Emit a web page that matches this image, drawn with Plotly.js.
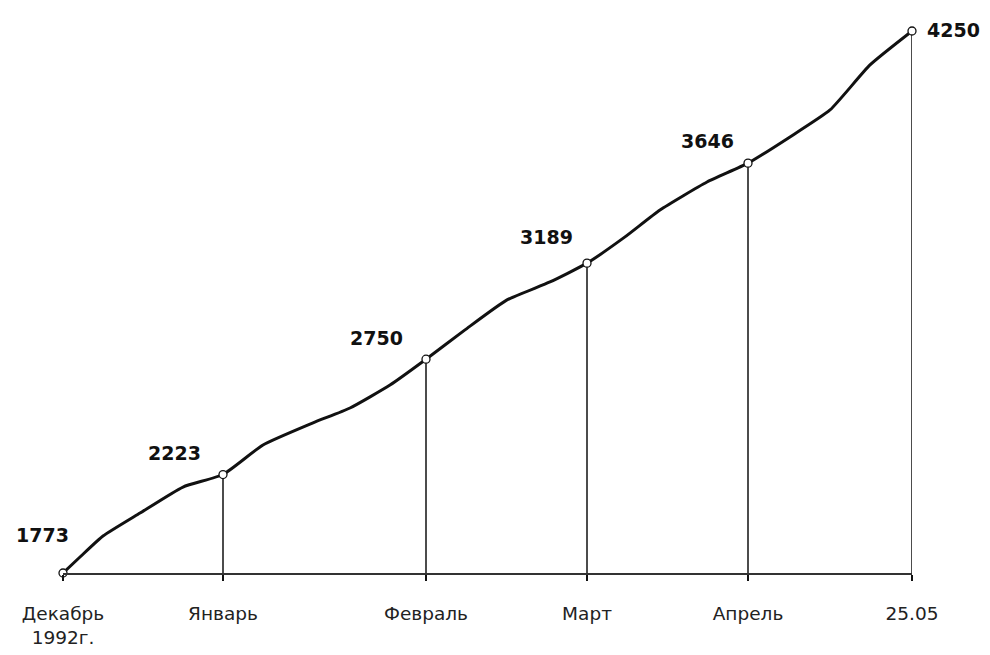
<!DOCTYPE html>
<html>
<head>
<meta charset="utf-8">
<script src="https://cdn.plot.ly/plotly-3.0.1.min.js"></script>
<style>html,body{margin:0;padding:0;background:#fff;}#chart{width:990px;height:655px;}</style>
</head>
<body>
<div id="chart"></div>
<script>
// Key dates (position along the time scale) and their values
const keyLabels = ["Декабрь<br>1992г.", "Январь", "Февраль", "Март", "Апрель", "25.05"];
const keyX = [0, 160, 363, 524, 685, 849];
const keyValues = [1773, 2223, 2750, 3189, 3646, 4250];

// Intermediate readings of the curve
const pathX = [0, 17, 40, 77, 120, 160, 200, 250, 287, 327, 363, 402, 444, 487, 524, 562, 597, 644, 685, 727, 767, 807, 849];
const pathValues = [1773, 1846, 1942, 2047, 2166, 2223, 2358, 2459, 2527, 2632, 2750, 2884, 3021, 3103, 3189, 3309, 3432, 3560, 3646, 3766, 3889, 4095, 4250];

const yMin = 1773, yMax = 4250;

// Label offsets (pixels) per key point
const labelShiftX = [-21, -49, -50, -41, -41, 41];
const labelShiftY = [38, 22, 21, 26, 22, 1];

// drop lines
const dropX = [], dropY = [];
keyX.forEach((x, i) => { dropX.push(x, x, null); dropY.push(keyValues[i], yMin, null); });

const traces = [
  {x: dropX, y: dropY, mode: 'lines', line: {color: '#111', width: 1.5}, hoverinfo: 'skip', showlegend: false},
  {x: pathX, y: pathValues, mode: 'lines', line: {color: '#111', width: 3, shape: 'spline', smoothing: 0.5}, showlegend: false},
  {x: keyX, y: keyValues, mode: 'markers', cliponaxis: false,
   marker: {symbol: 'circle', size: 8, color: '#fff', line: {color: '#111', width: 1.3}}, showlegend: false}
];

const annotations = keyValues.map((v, i) => ({
  x: keyX[i], y: v, xref: 'x', yref: 'y', text: String(v), showarrow: false,
  xshift: labelShiftX[i], yshift: labelShiftY[i],
  font: {family: 'DejaVu Sans', size: 19, color: '#111', weight: 'bold'}
}));

const layout = {
  width: 990, height: 655,
  margin: {l: 63, r: 78, t: 31, b: 82},
  paper_bgcolor: '#fff', plot_bgcolor: '#fff',
  showlegend: false,
  xaxis: {
    range: [0, 849], showgrid: false, zeroline: false,
    showline: true, linecolor: '#333', linewidth: 1.5,
    tickmode: 'array', tickvals: keyX, ticktext: keyLabels,
    ticks: 'outside', ticklen: 6, tickwidth: 1.5, tickcolor: '#111',
    ticklabelstandoff: 17,
    tickfont: {family: 'DejaVu Sans', size: 18.5, color: '#222'}
  },
  yaxis: {
    range: [yMin, yMax], visible: false, showgrid: false, zeroline: false
  },
  annotations: annotations
};

Plotly.newPlot('chart', traces, layout, {displayModeBar: false, staticPlot: true});
</script>
</body>
</html>
